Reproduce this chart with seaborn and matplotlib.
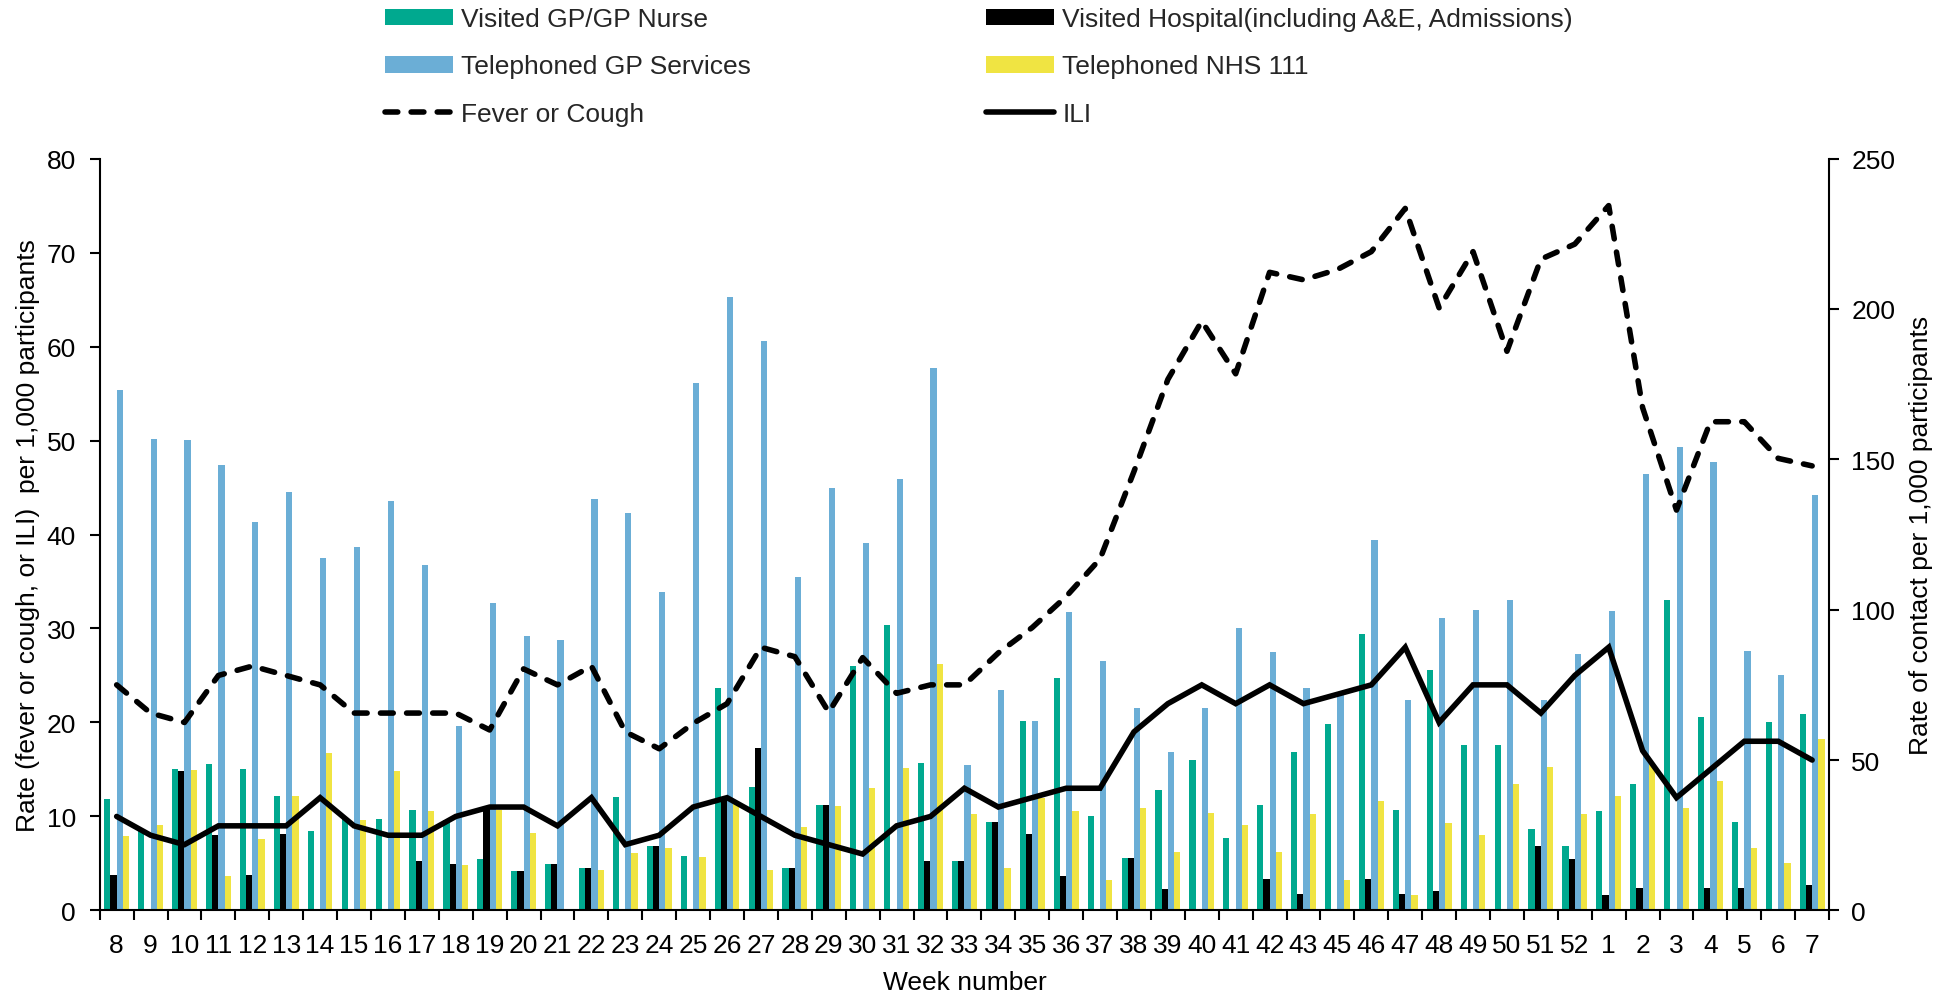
import numpy as np
import pandas as pd
import matplotlib
matplotlib.use("Agg")
import matplotlib.pyplot as plt
import seaborn as sns
from matplotlib.patches import Patch
from matplotlib.lines import Line2D
from matplotlib.ticker import FixedLocator

weeks = [str(w) for w in list(range(8, 44)) + list(range(45, 53)) + list(range(1, 8))]

# Left axis (rate per 1,000 participants)
fever_cough = [24, 21, 20, 25, 26, 25, 24, 21, 21, 21, 21, 19.2, 25.7, 24, 26, 19, 17.2, 19.9, 22, 28,
               27, 21.1, 26.9, 23.1, 24, 24, 27.4, 30.1, 33.4, 37.4, 46.7, 56.5, 62.7, 57.1, 67.9, 67.1,
               68.2, 70.1, 74.7, 64.1, 70.1, 59.5, 69.3, 70.9, 75.0, 53.5, 42.6, 52.0, 52.0, 48.1, 47.3]
ili = [10, 8, 7, 9, 9, 9, 12, 9, 8, 8, 10, 11, 11, 9, 12, 7, 8, 11, 12, 10,
       8, 7, 6, 9, 10, 13, 11, 12, 13, 13, 19, 22, 24, 22, 24, 22,
       23, 24, 28, 20, 24, 24, 21, 25, 28, 17, 12, 15, 18, 18, 16]

# Right axis (rate of contact per 1,000 participants)
visited_gp = [36.9, 26.3, 46.9, 48.8, 46.9, 38.1, 26.3, 30.3, 30.3, 33.4, 30.0, 17.2, 13.1, 15.3, 14.1,
              37.8, 21.3, 18.1, 74.1, 40.9, 14.1, 35.0, 81.3, 95.0, 49.1, 16.3, 29.4, 63.1, 77.2, 31.3,
              17.5, 40.0, 50.0, 24.1, 35.0, 52.8, 61.9, 91.9, 33.4, 80.0, 55.0, 55.0, 27.2, 21.3, 33.1,
              42.2, 103.1, 64.4, 29.4, 62.5, 65.3]
visited_hosp = [11.9, 0, 46.3, 25.0, 11.9, 25.3, 0, 0, 0, 16.3, 15.3, 34.4, 13.1, 15.3, 14.1,
                0, 21.3, 0, 37.2, 54.1, 14.1, 35.0, 0, 0, 16.3, 16.3, 29.4, 25.3, 11.6, 0,
                17.5, 7.2, 0, 0, 10.3, 5.3, 0, 10.3, 5.3, 6.6, 0, 0, 21.3, 17.2, 5.0,
                7.5, 0, 7.5, 7.5, 0, 8.4]
tel_gp = [173.1, 156.9, 156.3, 148.1, 129.1, 139.1, 117.2, 120.9, 136.3, 115.0, 61.3, 102.2, 91.3, 90.0,
          136.9, 132.2, 105.9, 175.3, 204.1, 189.4, 110.9, 140.3, 122.2, 143.4, 180.3, 48.4, 73.4, 63.1,
          99.1, 83.1, 67.2, 52.8, 67.2, 93.8, 85.9, 74.1, 72.2, 123.1, 70.0, 97.2, 100.0, 103.1, 70.0,
          85.3, 99.4, 145.0, 154.1, 149.1, 86.3, 78.4, 138.1]
tel_111 = [24.7, 28.4, 46.6, 11.6, 23.8, 38.1, 52.2, 30.0, 46.3, 33.1, 15.0, 33.4, 25.9, 0, 13.4,
           19.1, 20.9, 17.8, 35.6, 13.4, 27.8, 34.7, 40.6, 47.5, 81.9, 31.9, 14.1, 37.5, 33.1, 10.0,
           34.1, 19.4, 32.5, 28.4, 19.4, 31.9, 10.0, 36.3, 5.0, 29.1, 25.0, 41.9, 47.8, 31.9, 38.1,
           48.8, 34.1, 43.1, 20.9, 15.9, 56.9]

bar_names = ["Visited GP/GP Nurse", "Visited Hospital(including A&E, Admissions)",
             "Telephoned GP Services", "Telephoned NHS 111"]
bar_colors = ["#00A98F", "#000000", "#6BAED6", "#F0E442"]

bars = pd.DataFrame({
    "week": weeks * 4,
    "series": np.repeat(bar_names, len(weeks)),
    "value": visited_gp + visited_hosp + tel_gp + tel_111,
})

sns.set_theme(style="white")
plt.rcParams["font.family"] = ["Liberation Sans", "DejaVu Sans"]
FS = 19
LW = 4.0
DASH = (2.3, 2.4)

fig = plt.figure(figsize=(19.55, 9.95), dpi=100)
ax = fig.add_axes([0.051, 0.084, 0.8846, 0.7556])
ax2 = ax.twinx()

sns.barplot(data=bars, x="week", y="value", hue="series", order=weeks, hue_order=bar_names,
            palette=bar_colors, width=0.73, ax=ax2, legend=False, saturation=1, linewidth=0,
            errorbar=None)

x = np.arange(len(weeks))
lines = pd.DataFrame({"x": x, "fever": fever_cough, "ili": ili})
sns.lineplot(data=lines, x="x", y="fever", ax=ax, color="black", linewidth=LW, sort=False)
fl = ax.lines[-1]
fl.set_dashes(DASH)
fl.set_dash_capstyle("round")
fl.set_solid_joinstyle("round")
sns.lineplot(data=lines, x="x", y="ili", ax=ax, color="black", linewidth=LW, sort=False)
ax.lines[-1].set_solid_joinstyle("miter")

ax.set_zorder(ax2.get_zorder() + 1)
ax.patch.set_visible(False)

ax.set_xlim(-0.5, len(weeks) - 0.5)
ax.set_ylim(0, 80)
ax2.set_ylim(0, 250)
ax.set_yticks(range(0, 81, 10))
ax2.set_yticks(range(0, 251, 50))

ax.xaxis.set_major_locator(FixedLocator(x))
ax.set_xticklabels(weeks)
ax.xaxis.set_minor_locator(FixedLocator(np.arange(len(weeks) + 1) - 0.5))
ax.tick_params(axis="x", which="major", length=0, pad=16, labelsize=FS, colors="black")
ax.tick_params(axis="x", which="minor", length=7, width=1.5, direction="out", color="black", bottom=True)
ax.tick_params(axis="y", length=7, width=1.5, direction="out", pad=10, labelsize=FS,
               colors="black", left=True)
ax2.tick_params(axis="y", length=7, width=1.5, direction="out", pad=9, labelsize=FS,
                colors="black", right=True)

for a in (ax, ax2):
    a.spines["top"].set_visible(False)
    for s in ("left", "right", "bottom"):
        a.spines[s].set_color("black")
        a.spines[s].set_linewidth(1.5)
ax.spines["right"].set_visible(False)
ax2.spines["left"].set_visible(False)
ax2.spines["bottom"].set_visible(False)

ax.set_xlabel("Week number", fontsize=FS, color="black", labelpad=9.5)
ax.set_ylabel("Rate (fever or cough, or ILI)  per 1,000 participants", fontsize=FS,
              color="black", labelpad=5)
ax2.set_ylabel("Rate of contact per 1,000 participants", fontsize=FS, color="black", labelpad=9.5)

handles = [
    Patch(facecolor=bar_colors[0], edgecolor="none", label=bar_names[0]),
    Patch(facecolor=bar_colors[2], edgecolor="none", label=bar_names[2]),
    Line2D([0], [0], color="black", lw=LW, dashes=DASH, dash_capstyle="round", label="Fever or Cough"),
    Patch(facecolor=bar_colors[1], edgecolor="none", label=bar_names[1]),
    Patch(facecolor=bar_colors[3], edgecolor="none", label=bar_names[3]),
    Line2D([0], [0], color="black", lw=LW, label="ILI"),
]
fig.legend(handles=handles, loc="upper left", bbox_to_anchor=(0.194, 0.997), ncol=2,
           frameon=False, fontsize=FS, handlelength=2.6, handleheight=0.6, handletextpad=0.3,
           labelspacing=0.88, columnspacing=8.9, borderpad=0.2, borderaxespad=0)

fig.savefig("out.png", dpi=100)
